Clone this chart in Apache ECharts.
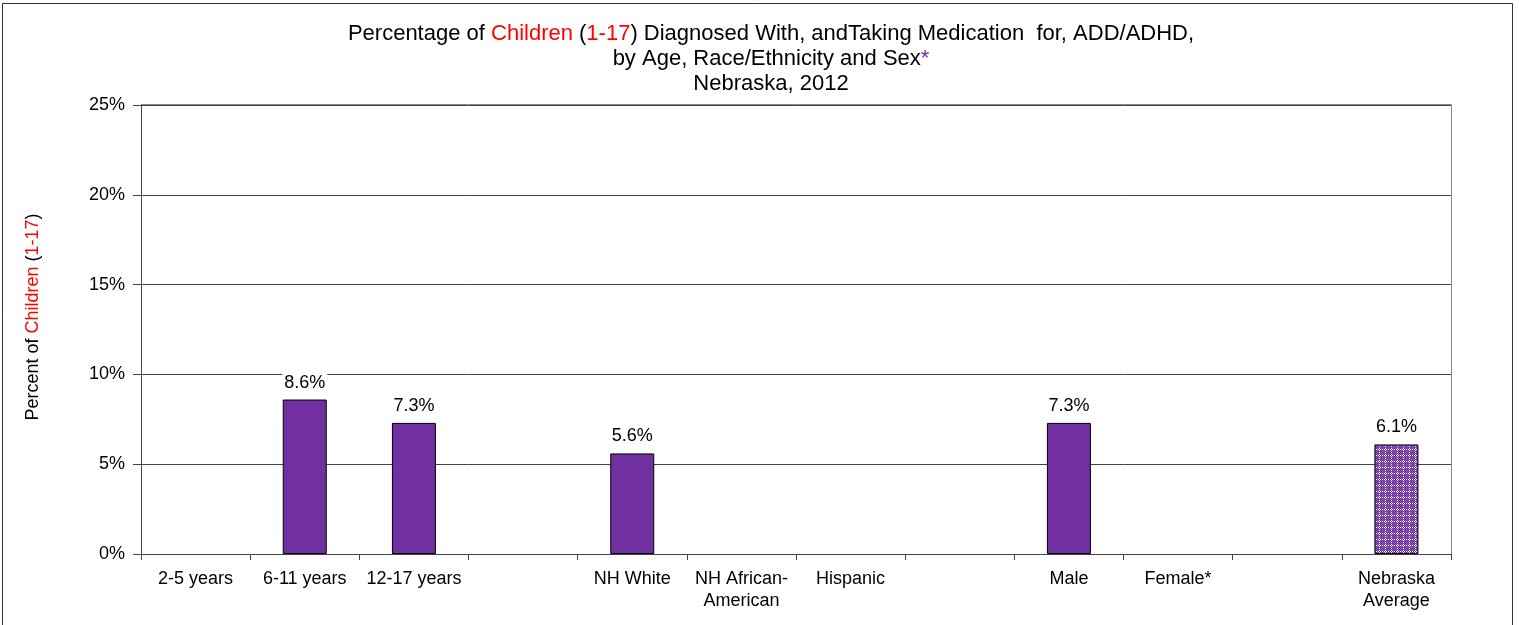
<!DOCTYPE html>
<html>
<head>
<meta charset="utf-8">
<script src="https://cdn.jsdelivr.net/npm/echarts@6/dist/echarts.min.js"></script>
<style>
html,body{margin:0;padding:0;background:#fff;}
#c{width:1519px;height:625px;}
</style>
</head>
<body>
<div id="c"></div>
<script>
var categories = ['2-5 years','6-11 years','12-17 years','','NH White','NH African-\nAmerican','Hispanic','','Male','Female*','','Nebraska\nAverage'];
var values = [null, 8.6, 7.3, null, 5.6, null, null, null, 7.3, null, null, 6.1];
var averageCategory = 'Nebraska\nAverage';
var yTicks = [0, 5, 10, 15, 20, 25];

var FONT = '"Liberation Sans", Arial, sans-serif';
var PURPLE = '#7030A0';

// checkered pattern for the average bar
var pat = document.createElement('canvas');
pat.width = 6; pat.height = 6;
var pctx = pat.getContext('2d');
pctx.fillStyle = '#ffffff';
pctx.fillRect(0,0,6,6);
pctx.fillStyle = PURPLE;
for (var i=0;i<6;i++){ for (var j=0;j<6;j++){ if ((i+j)%2===0) pctx.fillRect(i,j,1,1); } }
pctx.fillStyle = '#8a55b5';
for (var i2=0;i2<6;i2++){ for (var j2=0;j2<6;j2++){ if ((i2+j2)%2===1 && j2!==5 && i2!==5) pctx.fillRect(i2,j2,1,1); } }

var seriesData = categories.map(function(c, i){
  var v = values[i];
  if (c === averageCategory) {
    return {value: v, itemStyle: {color: {image: pat, repeat: 'repeat'}}};
  }
  return v;
});

var chart = echarts.init(document.getElementById('c'), null, {renderer:'canvas'});
chart.setOption({
  animation: false,
  backgroundColor: '#fff',
  textStyle: {fontFamily: FONT},
  title: {
    left: 766, top: 16, textAlign: 'center',
    text: '{k|Percentage of }{r|Children}{k| (}{r|1-17}{k|) Diagnosed With, andTaking Medication  for, ADD/ADHD,}\n{k|by Age, Race/Ethnicity and Sex}{p|*}\n{k|Nebraska, 2012}',
    textStyle: {
      fontFamily: FONT, fontSize: 22, fontWeight: 'normal', color: '#000', lineHeight: 25,
      rich: {
        k: {fontFamily: FONT, fontSize: 22, color: '#000', lineHeight: 25},
        r: {fontFamily: FONT, fontSize: 22, color: '#ff0000', lineHeight: 25},
        p: {fontFamily: FONT, fontSize: 22, color: '#7030A0', lineHeight: 25}
      }
    }
  },
  graphic: [
    {type:'rect', shape:{x:2.5,y:3.5,width:1510,height:640}, style:{fill:'none', stroke:'#333', lineWidth:1}, silent:true},
    {type:'line', shape:{x1:141,y1:104.5,x2:1451.5,y2:104.5}, style:{stroke:'#888', lineWidth:1}, silent:true, z:0},
    {type:'line', shape:{x1:1451.5,y1:104.5,x2:1451.5,y2:554}, style:{stroke:'#888', lineWidth:1}, silent:true, z:0},
    {type:'text', x:33, y:317, rotation: Math.PI/2,
      style:{
        text:'{k|Percent of }{r|Children}{k| (}{r|1-17}{k|)}',
        align:'center', verticalAlign:'middle',
        font: '18px ' + FONT,
        rich:{
          k:{fontFamily:FONT, fontSize:18, fill:'#000', color:'#000'},
          r:{fontFamily:FONT, fontSize:18, fill:'#ff0000', color:'#ff0000'}
        }
      }, silent:true}
  ],
  grid: {left:141, right:68, top:105, bottom:71, containLabel:false},
  xAxis: {
    type:'category', data: categories, boundaryGap:true,
    axisLine:{show:true, lineStyle:{color:'#444', width:1}},
    axisTick:{show:true, inside:false, length:6, alignWithLabel:false, interval:0, lineStyle:{color:'#444'}},
    axisLabel:{interval:0, color:'#000', fontSize:18, fontFamily:FONT, margin:14, lineHeight:22},
    splitLine:{show:false}
  },
  yAxis: {
    type:'value', min:yTicks[0], max:yTicks[yTicks.length-1], interval:5,
    axisLine:{show:true, lineStyle:{color:'#444', width:1}},
    axisTick:{show:true, inside:false, length:8, lineStyle:{color:'#444'}},
    axisLabel:{color:'#000', fontSize:18, fontFamily:FONT, margin:16, formatter:'{value}%'},
    splitLine:{show:true, lineStyle:{color:'#444', width:1}}
  },
  series: [{
    type:'bar', data: seriesData, barWidth:44,
    itemStyle:{color:PURPLE, borderColor:'#000', borderWidth:1},
    label:{show:true, position:'top', distance:8, color:'#000', fontSize:18, fontFamily:FONT,
      backgroundColor:'#fff', padding:[0,2,0,2],
      formatter:function(p){ return p.value==null ? '' : p.value.toFixed(1)+'%'; }}
  }]
});
</script>
</body>
</html>
